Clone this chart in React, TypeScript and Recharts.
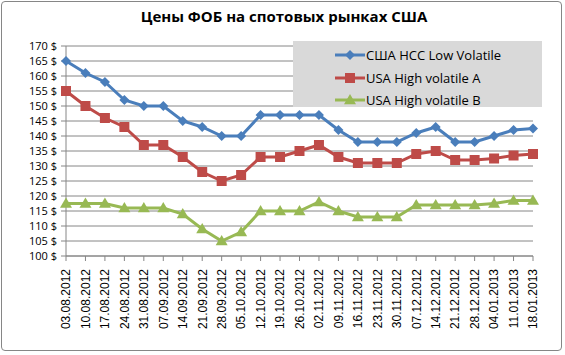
import { CartesianGrid, Legend, Line, LineChart, XAxis, YAxis } from "recharts";

const dates = [
  "03.08.2012", "10.08.2012", "17.08.2012", "24.08.2012", "31.08.2012",
  "07.09.2012", "14.09.2012", "21.09.2012", "28.09.2012", "05.10.2012",
  "12.10.2012", "19.10.2012", "26.10.2012", "02.11.2012", "09.11.2012",
  "16.11.2012", "23.11.2012", "30.11.2012", "07.12.2012", "14.12.2012",
  "21.12.2012", "28.12.2012", "04.01.2013", "11.01.2013", "18.01.2013",
];
const lowVolatile = [
  165, 161, 158, 152, 150, 150, 145, 143, 140, 140, 147, 147, 147, 147, 142,
  138, 138, 138, 141, 143, 138, 138, 140, 142, 142.5,
];
const highVolatileA = [
  155, 150, 146, 143, 137, 137, 133, 128, 125, 127, 133, 133, 135, 137, 133,
  131, 131, 131, 134, 135, 132, 132, 132.5, 133.5, 134,
];
const highVolatileB = [
  117.5, 117.5, 117.5, 116, 116, 116, 114, 109, 105, 108, 115, 115, 115, 118, 115,
  113, 113, 113, 117, 117, 117, 117, 117.5, 118.5, 118.5,
];
const yTicks = [100, 105, 110, 115, 120, 125, 130, 135, 140, 145, 150, 155, 160, 165, 170];

const seriesNames = ["США HCC Low Volatile", "USA High volatile A", "USA High volatile B"];
const colors = ["#4A7EBB", "#BE4B48", "#98B954"];

const data = dates.map((d, i) => ({
  date: d,
  low: lowVolatile[i],
  a: highVolatileA[i],
  b: highVolatileB[i],
}));

const FONT = "'Open Sans', 'Noto Sans', sans-serif";

function Marker({ kind, cx, cy, color }: { kind: number; cx: number; cy: number; color: string }) {
  if (kind === 0) {
    const r = 5;
    return <path d={`M${cx},${cy - r}L${cx + r},${cy}L${cx},${cy + r}L${cx - r},${cy}Z`} fill={color} />;
  }
  if (kind === 1) {
    const s = 5;
    return <rect x={cx - s} y={cy - s} width={s * 2} height={s * 2} fill={color} />;
  }
  const r = 6;
  return <path d={`M${cx},${cy - r}L${cx + r},${cy + r * 0.7}L${cx - r},${cy + r * 0.7}Z`} fill={color} />;
}

function dot(kind: number) {
  return (props: any) => {
    const { cx, cy, index } = props;
    if (cx == null || cy == null) return <g key={index} />;
    return <Marker key={index} kind={kind} cx={cx} cy={cy} color={colors[kind]} />;
  };
}

function DateTick(props: any) {
  const { x, y, payload } = props;
  return (
    <g transform={`translate(${x},${y})`}>
      <text
        transform="rotate(-90)"
        x={-6}
        y={0}
        dy="0.36em"
        textAnchor="end"
        fontSize={12}
        fontFamily="'Liberation Sans', Arial, sans-serif"
        fill="#000"
      >
        {payload.value}
      </text>
    </g>
  );
}

function LegendBox() {
  return (
    <div style={{ background: "#D9D9D9", width: 249, height: 66, padding: "3px 0 0 42px", boxSizing: "border-box" }}>
      {seriesNames.map((name, i) => (
        <div key={name} style={{ display: "flex", alignItems: "center", height: 22.5 }}>
          <svg width={30} height={14}>
            <line x1={0} y1={7} x2={30} y2={7} stroke={colors[i]} strokeWidth={3} />
            <Marker kind={i} cx={15} cy={7} color={colors[i]} />
          </svg>
          <span style={{ fontFamily: FONT, fontSize: 13, color: "#000", marginLeft: 1 }}>{name}</span>
        </div>
      ))}
    </div>
  );
}

export default function App() {
  return (
    <div style={{ position: "absolute", left: 0, top: 0, width: 565, height: 355, background: "#fff" }}>
      <div
        style={{
          position: "absolute",
          left: 1,
          top: 1,
          width: 561,
          height: 350,
          border: "1px solid #868686",
          borderRadius: 4,
          boxSizing: "border-box",
        }}
      />
      <div
        style={{
          position: "absolute",
          left: 0,
          top: 6,
          width: 568,
          textAlign: "center",
          fontFamily: FONT,
          fontWeight: 700,
          fontSize: 15,
          color: "#000",
        }}
      >
        Цены ФОБ на спотовых рынках США
      </div>
      <LineChart width={565} height={355} data={data} margin={{ top: 46, right: 32, left: 6, bottom: 20 }}>
        <CartesianGrid vertical={false} stroke="#868686" strokeWidth={1} />
        <XAxis
          dataKey="date"
          interval={0}
          tick={<DateTick />}
          tickSize={5}
          height={79}
          stroke="#868686"
          tickLine={{ stroke: "#868686" }}
        />
        <YAxis
          domain={[100, 170]}
          ticks={yTicks}
          interval={0}
          width={60}
          tickSize={5}
          tickMargin={4}
          stroke="#868686"
          tickFormatter={(v: number) => `${v} $`}
          tick={{ fill: "#000", fontSize: 11, fontFamily: FONT }}
        />
        <Legend
          layout="vertical"
          align="center"
          verticalAlign="middle"
          content={<LegendBox />}
          wrapperStyle={{ position: "absolute", left: 293, top: 41, width: 249, height: 66 }}
        />
        <Line dataKey="low" name={seriesNames[0]} stroke={colors[0]} strokeWidth={3} dot={dot(0)} activeDot={false} isAnimationActive={false} />
        <Line dataKey="a" name={seriesNames[1]} stroke={colors[1]} strokeWidth={3} dot={dot(1)} activeDot={false} isAnimationActive={false} />
        <Line dataKey="b" name={seriesNames[2]} stroke={colors[2]} strokeWidth={3} dot={dot(2)} activeDot={false} isAnimationActive={false} />
      </LineChart>
    </div>
  );
}
